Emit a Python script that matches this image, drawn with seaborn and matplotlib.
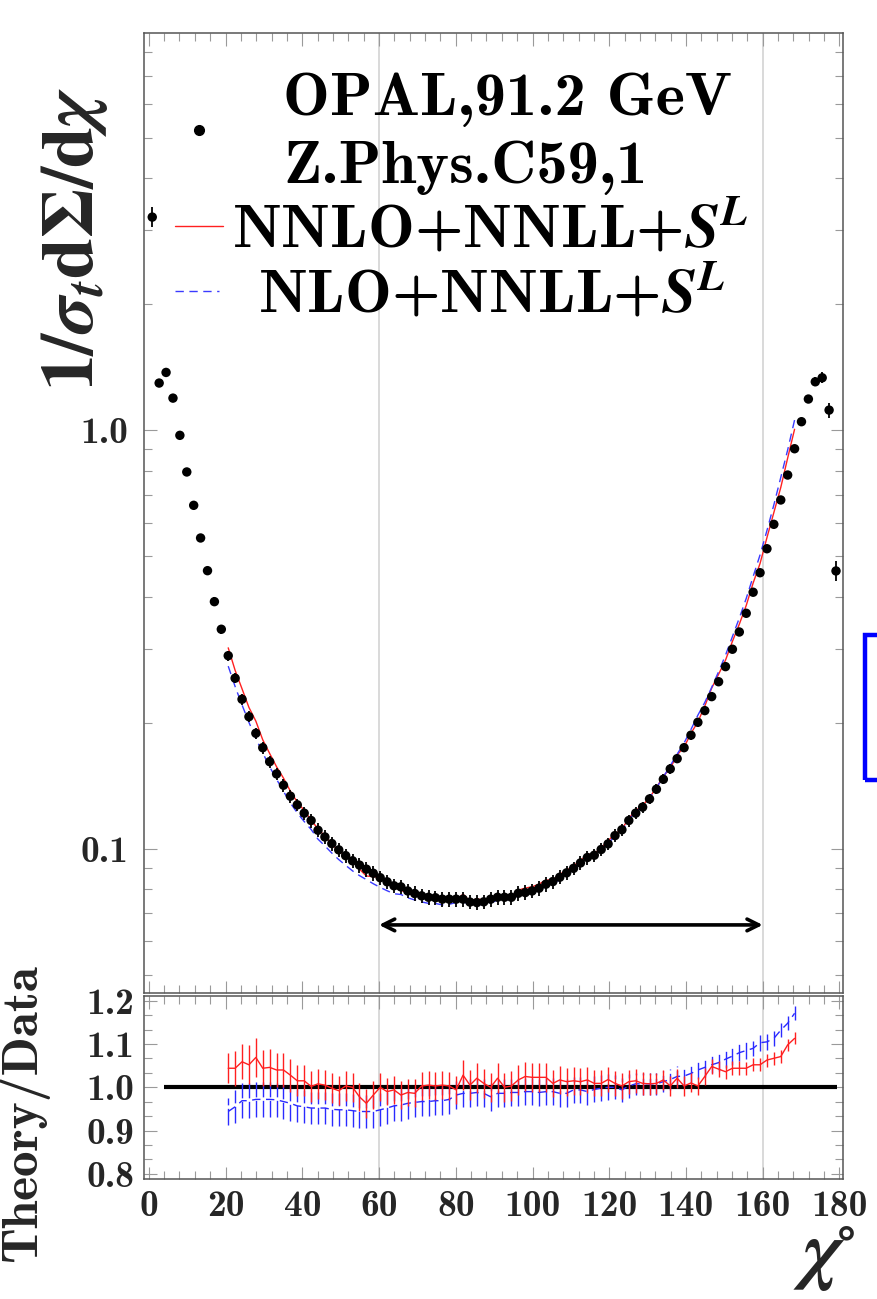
import numpy as np
import matplotlib
matplotlib.use("Agg")
import matplotlib.pyplot as plt
import seaborn as sns
from matplotlib.ticker import FixedLocator, NullFormatter, LogLocator, AutoMinorLocator
from matplotlib.patches import Rectangle

# --- OPAL EEC at 91.2 GeV (bins of 1.8 degrees) ---
chi = np.round(0.9 + 1.8 * np.arange(100), 1)

eec_data = [
    3.227, 1.295, 1.373, 1.192, 0.9713, 0.7940, 0.6609, 0.5522, 0.4613, 0.3890,
    0.3342, 0.2890, 0.2553, 0.2274, 0.2066, 0.1886, 0.1742, 0.1613, 0.1508, 0.1417,
    0.1334, 0.1272, 0.1215, 0.1167, 0.1106, 0.1066, 0.1028, 0.0993, 0.0962, 0.0935,
    0.0913, 0.0893, 0.0873, 0.0852, 0.0833, 0.0815, 0.0810, 0.0792, 0.0781, 0.0771,
    0.0765, 0.0763, 0.0757, 0.0757, 0.0757, 0.0757, 0.0745, 0.0743, 0.0746, 0.0757,
    0.0765, 0.0765, 0.0765, 0.0782, 0.0785, 0.0792, 0.0804, 0.0822, 0.0834, 0.0854,
    0.0875, 0.0897, 0.0924, 0.0952, 0.0964, 0.0995, 0.1026, 0.1074, 0.1109, 0.1167,
    0.1215, 0.1256, 0.1314, 0.1386, 0.1464, 0.1550, 0.1640, 0.1742, 0.1866, 0.2003,
    0.2136, 0.2307, 0.2504, 0.2721, 0.2994, 0.3292, 0.3649, 0.4097, 0.4561, 0.5205,
    0.5953, 0.6806, 0.7807, 0.9023, 1.047, 1.186, 1.304, 1.333, 1.116, 0.4606,
]

# relative uncertainty of each data point
eec_rel_err = [
    0.055, 0.020, 0.020, 0.020, 0.020, 0.020, 0.022, 0.022, 0.022, 0.025,
    0.025, 0.028, 0.028, 0.030, 0.030, 0.030, 0.032, 0.032, 0.032, 0.035,
    0.035, 0.035, 0.035, 0.038, 0.038, 0.038, 0.038, 0.038, 0.038, 0.040,
    0.040, 0.040, 0.040, 0.040, 0.040, 0.040, 0.040, 0.040, 0.040, 0.040,
    0.040, 0.040, 0.040, 0.040, 0.040, 0.040, 0.040, 0.040, 0.040, 0.040,
    0.040, 0.040, 0.040, 0.040, 0.040, 0.040, 0.040, 0.040, 0.038, 0.038,
    0.038, 0.038, 0.038, 0.038, 0.036, 0.036, 0.035, 0.035, 0.034, 0.033,
    0.032, 0.030, 0.030, 0.028, 0.028, 0.026, 0.025, 0.025, 0.024, 0.024,
    0.022, 0.022, 0.020, 0.020, 0.020, 0.020, 0.020, 0.020, 0.020, 0.020,
    0.020, 0.020, 0.020, 0.020, 0.020, 0.020, 0.025, 0.030, 0.040, 0.055,
]

# theory range: bins 11 .. 93
chi_th = chi[11:94]

ratio_nnlo = [
    1.044, 1.044, 1.059, 1.052, 1.069, 1.044, 1.046, 1.040, 1.040, 1.028,
    1.015, 1.015, 1.002, 1.008, 1.005, 0.998, 0.992, 1.003, 1.000, 0.978,
    0.963, 0.982, 1.000, 0.990, 0.994, 0.982, 0.988, 0.986, 1.003, 1.005,
    1.003, 1.005, 1.003, 0.994, 1.028, 1.005, 1.021, 1.009, 1.000, 1.021,
    1.000, 1.003, 1.017, 1.025, 1.023, 1.023, 1.023, 1.009, 1.017, 1.013,
    1.015, 1.013, 1.017, 1.009, 1.009, 1.018, 1.009, 1.003, 1.013, 1.015,
    1.009, 1.008, 1.009, 1.017, 1.003, 1.021, 1.003, 1.010, 1.003, 1.025,
    1.048, 1.042, 1.036, 1.044, 1.044, 1.044, 1.052, 1.052, 1.063, 1.067,
    1.071, 1.098, 1.113,
]

ratio_nlo = [
    0.944, 0.955, 0.969, 0.969, 0.972, 0.972, 0.972, 0.971, 0.967, 0.963,
    0.957, 0.955, 0.952, 0.952, 0.952, 0.949, 0.948, 0.948, 0.946, 0.944,
    0.944, 0.944, 0.948, 0.952, 0.957, 0.959, 0.963, 0.965, 0.967, 0.967,
    0.969, 0.969, 0.972, 0.982, 0.986, 0.986, 0.988, 0.986, 0.978, 0.986,
    0.986, 0.988, 0.988, 0.990, 0.990, 0.988, 0.990, 0.990, 0.986, 0.986,
    0.994, 0.994, 0.990, 0.995, 0.998, 1.000, 1.000, 0.994, 1.003, 1.008,
    1.008, 1.008, 1.008, 1.013, 1.018, 1.025, 1.026, 1.032, 1.040, 1.046,
    1.052, 1.057, 1.065, 1.072, 1.080, 1.085, 1.090, 1.103, 1.105, 1.113,
    1.132, 1.148, 1.171,
]

err_nnlo = [
    0.035, 0.040, 0.040, 0.045, 0.045, 0.042, 0.042, 0.040, 0.040, 0.038,
    0.036, 0.036, 0.035, 0.035, 0.034, 0.034, 0.034, 0.034, 0.033, 0.033,
    0.033, 0.033, 0.032, 0.032, 0.032, 0.032, 0.032, 0.032, 0.032, 0.032,
    0.032, 0.032, 0.032, 0.032, 0.034, 0.034, 0.034, 0.034, 0.034, 0.034,
    0.034, 0.034, 0.034, 0.033, 0.033, 0.033, 0.033, 0.032, 0.032, 0.032,
    0.032, 0.031, 0.031, 0.030, 0.030, 0.030, 0.029, 0.029, 0.028, 0.028,
    0.026, 0.026, 0.025, 0.024, 0.024, 0.022, 0.022, 0.022, 0.020, 0.020,
    0.018, 0.018, 0.016, 0.016, 0.016, 0.015, 0.015, 0.015, 0.015, 0.015,
    0.015, 0.014, 0.014,
]

err_nlo = [
    0.032, 0.038, 0.040, 0.040, 0.040, 0.040, 0.040, 0.040, 0.040, 0.040,
    0.038, 0.038, 0.038, 0.038, 0.038, 0.038, 0.038, 0.038, 0.038, 0.038,
    0.038, 0.038, 0.038, 0.038, 0.036, 0.036, 0.036, 0.034, 0.034, 0.034,
    0.034, 0.033, 0.033, 0.032, 0.032, 0.032, 0.032, 0.032, 0.032, 0.032,
    0.032, 0.032, 0.032, 0.032, 0.032, 0.032, 0.032, 0.032, 0.032, 0.032,
    0.030, 0.030, 0.030, 0.030, 0.030, 0.030, 0.028, 0.028, 0.028, 0.026,
    0.026, 0.026, 0.025, 0.025, 0.024, 0.024, 0.024, 0.022, 0.022, 0.022,
    0.020, 0.020, 0.020, 0.020, 0.020, 0.020, 0.018, 0.018, 0.018, 0.018,
    0.016, 0.016, 0.016,
]

fit_range = (60, 160)
x_ticks = [0, 20, 40, 60, 80, 100, 120, 140, 160, 180]
ratio_ticks = [0.8, 0.9, 1.0, 1.1, 1.2]
main_ticks = [0.1, 1.0]

# ---------------------------------------------------------------
sns.set_theme(style="ticks")
plt.rcParams["font.family"] = ["cmb10", "DejaVu Serif"]
plt.rcParams["mathtext.fontset"] = "stix"
plt.rcParams["axes.unicode_minus"] = False

W, H = 877, 1299
fig = plt.figure(figsize=(W / 100, H / 100), dpi=100)
fig.patch.set_facecolor("white")


def frac_box(left, top, right, bottom):
    return [left / W, 1 - bottom / H, (right - left) / W, (bottom - top) / H]


ax = fig.add_axes(frac_box(144, 32.7, 843.3, 992.5))
axr = fig.add_axes(frac_box(144, 996, 843.3, 1179))

XLIM = (-1.25, 181.0)
tick_col = "#9a9a9a"
TICK_FS = 27

for a in (ax, axr):
    a.set_xlim(*XLIM)
    a.set_facecolor("white")
    for x0 in fit_range:
        a.axvline(x0, color="#d0d0d0", lw=1.1, zorder=0)
    a.xaxis.set_major_locator(FixedLocator(x_ticks))
    a.xaxis.set_minor_locator(AutoMinorLocator(5))
    a.tick_params(axis="both", which="both", direction="in", top=True, right=True,
                  color=tick_col, width=0.8)
    a.tick_params(axis="both", which="major", length=9)
    a.tick_params(axis="both", which="minor", length=5.5)
    for s in a.spines.values():
        s.set_color("#555555")
        s.set_linewidth(1.1)

# ---------------- main panel ----------------
data = np.array(eec_data)
derr = data * np.array(eec_rel_err)
th_nnlo = data[11:94] * np.array(ratio_nnlo)
th_nlo = data[11:94] * np.array(ratio_nlo)

ax.set_yscale("log")
ax.set_ylim(0.0453, 8.9)

sns.lineplot(x=chi_th, y=th_nnlo, ax=ax, color="#ff2020", lw=1.0, zorder=2)
sns.lineplot(x=chi_th, y=th_nlo, ax=ax, color="#3a3aff", lw=1.0,
             linestyle=(0, (6, 4)), zorder=2)
ax.errorbar(chi, data, yerr=derr, fmt="none", ecolor="black", elinewidth=1.3,
            capsize=0, zorder=3)
sns.scatterplot(x=chi, y=data, ax=ax, color="black", s=46, edgecolor="none",
                zorder=4, legend=False)

ax.yaxis.set_major_locator(FixedLocator(main_ticks))
ax.yaxis.set_minor_locator(LogLocator(base=10, subs=np.arange(2, 10)))
ax.yaxis.set_minor_formatter(NullFormatter())
ax.set_yticklabels(["0.1", "1.0"], fontsize=TICK_FS)
ax.tick_params(axis="x", labelbottom=False)
ax.tick_params(axis="y", pad=11)
ax.set_xlabel("")

ax.annotate("", xy=(fit_range[1], 0.0657), xytext=(fit_range[0], 0.0657),
            arrowprops=dict(arrowstyle="<->,head_length=0.7,head_width=0.35",
                            lw=2.6, color="black", shrinkA=0, shrinkB=0))

ax.set_ylabel(r"$\mathbf{1/}\mathbfit{\sigma_t}\mathbf{d\Sigma/d}\mathbfit{\chi}$",
              fontsize=53)
ax.yaxis.set_label_coords(-0.048, 0.785)

# legend block
tkw = dict(transform=ax.transAxes, fontsize=45, va="baseline", ha="left",
           color="black")
ax.text(0.199, 0.9142, "OPAL,91.2 GeV", **tkw)
ax.text(0.199, 0.8434, "Z.Phys.C59,1", **tkw)
ax.text(0.1258, 0.7757, r"NNLO+NNLL+$\mathbfit{S}^{\mathbfit{L}}$", **tkw)
ax.text(0.1630, 0.7090, r"NLO+NNLL+$\mathbfit{S}^{\mathbfit{L}}$", **tkw)
ax.plot([0.0783], [0.8986], "o", color="black", ms=7, transform=ax.transAxes,
        clip_on=False)
ax.plot([0.0443, 0.1130], [0.7986, 0.7986], color="#ff2020", lw=1.0,
        transform=ax.transAxes)
ax.plot([0.0443, 0.1070], [0.7312, 0.7312], color="#3a3aff", lw=1.0,
        linestyle=(0, (6, 4)), transform=ax.transAxes)

# ---------------- ratio panel ----------------
axr.set_ylim(0.788, 1.211)
axr.hlines(1.0, 4.0, 179.3, color="black", lw=3.0, zorder=2)

eb = axr.errorbar(chi_th, ratio_nlo, yerr=err_nlo, fmt="none", ecolor="#2a2aff",
                  elinewidth=1.0, capsize=0, zorder=3)
eb[2][0].set_linestyle((0, (12, 2.5)))
sns.lineplot(x=chi_th, y=ratio_nlo, ax=axr, color="#2a2aff", lw=1.0,
             linestyle=(0, (6, 4)), zorder=3)
axr.errorbar(chi_th, ratio_nnlo, yerr=err_nnlo, fmt="none", ecolor="#ff2020",
             elinewidth=1.0, capsize=0, zorder=4)
sns.lineplot(x=chi_th, y=ratio_nnlo, ax=axr, color="#ff2020", lw=1.0, zorder=4)

axr.yaxis.set_major_locator(FixedLocator(ratio_ticks))
axr.yaxis.set_minor_locator(AutoMinorLocator(3))
axr.set_yticklabels(["0.8", "0.9", "1.0", "1.1", "1.2"], fontsize=TICK_FS)
axr.set_xticklabels([str(v) for v in x_ticks], fontsize=TICK_FS)
axr.tick_params(axis="y", pad=7)
axr.tick_params(axis="x", pad=8)

axr.set_ylabel("Theory/Data", fontsize=37)
axr.yaxis.set_label_coords(-0.136, 0.36)
axr.set_xlabel(r"$\mathbfit{\chi}^{\circ}$", fontsize=56)
axr.xaxis.set_label_coords(0.972, -0.25)

# frame edge of the neighbouring panel
fig.patches.append(Rectangle((865 / W, 1 - 780 / H), 30 / W, 145 / H,
                             transform=fig.transFigure, fill=False,
                             edgecolor="#0000ff", lw=3.2))

fig.savefig("out.png", dpi=100, facecolor="white")
